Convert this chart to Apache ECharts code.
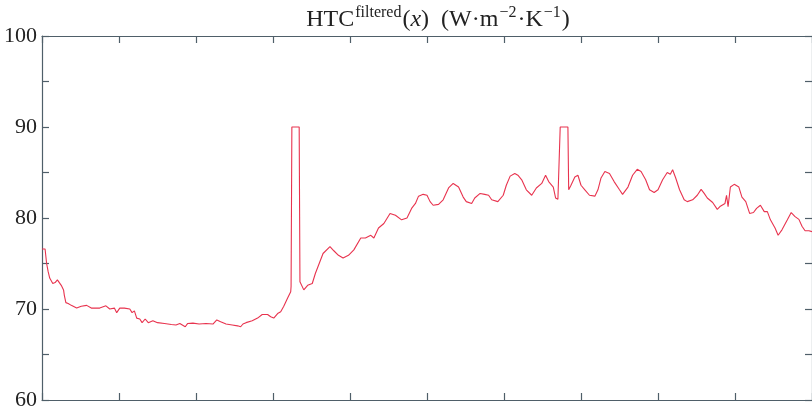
<!DOCTYPE html>
<html>
<head>
<meta charset="utf-8">
<script src="https://cdn.jsdelivr.net/npm/echarts@6/dist/echarts.min.js"></script>
<style>
html,body{margin:0;padding:0;background:#fff;}
#chart{width:812px;height:411px;}
</style>
</head>
<body>
<div id="chart"></div>
<script>
// position along x (axis units, ticks every 1)
const xs = [
0.00,0.04,0.06,0.08,0.10,0.14,0.17,0.20,0.22,0.25,0.28,0.29,0.31,0.34,0.38,0.45,0.51,0.58,0.64,0.75,
0.83,0.88,0.94,0.97,1.01,1.07,1.14,1.17,1.20,1.23,1.27,1.30,1.34,1.38,1.44,1.50,1.59,1.68,1.74,1.79,
1.86,1.89,1.96,2.04,2.13,2.22,2.27,2.32,2.39,2.47,2.54,2.58,2.61,2.65,2.73,2.80,2.86,2.93,2.97,3.01,
3.06,3.10,3.14,3.19,3.23,3.235,3.245,3.34,3.35,3.40,3.45,3.51,3.55,3.60,3.65,3.74,3.79,3.85,3.91,3.98,
4.05,4.14,4.20,4.27,4.31,4.37,4.44,4.52,4.59,4.67,4.74,4.80,4.85,4.89,4.95,5.00,5.04,5.08,5.15,5.21,
5.28,5.34,5.41,5.47,5.51,5.58,5.62,5.69,5.75,5.80,5.84,5.92,5.99,6.03,6.08,6.14,6.18,6.23,6.29,6.36,
6.42,6.49,6.54,6.58,6.64,6.67,6.70,6.72,6.73,6.83,6.84,6.87,6.92,6.96,7.00,7.05,7.11,7.18,7.22,7.26,
7.31,7.37,7.43,7.50,7.54,7.61,7.67,7.73,7.78,7.84,7.89,7.95,8.00,8.06,8.12,8.16,8.19,8.23,8.28,8.34,
8.38,8.45,8.51,8.56,8.60,8.64,8.71,8.77,8.81,8.87,8.89,8.91,8.94,8.99,9.05,9.09,9.14,9.19,9.24,9.28,
9.33,9.38,9.42,9.46,9.52,9.56,9.61,9.68,9.73,9.78,9.83,9.87,9.91,9.96,10.00
];
// HTC filtered values (W·m^-2·K^-1)
const htc = [
76.6,76.6,75.0,74.1,73.4,72.8,72.9,73.2,73.3,72.6,72.1,71.5,70.7,70.6,70.4,70.1,70.3,70.4,70.1,70.1,
70.35,70.0,70.1,69.6,70.1,70.1,70.0,69.6,69.8,69.0,68.9,68.5,68.9,68.5,68.7,68.5,68.4,68.3,68.25,68.4,
68.05,68.4,68.45,68.35,68.4,68.35,68.8,68.6,68.35,68.25,68.15,68.05,68.35,68.5,68.7,69.0,69.4,69.4,69.15,69.0,
69.5,69.7,70.3,71.2,71.9,72.5,90.0,90.0,73.0,72.1,72.6,72.8,73.9,75.0,76.1,76.85,76.4,75.9,75.6,75.9,
76.5,77.8,77.8,78.1,77.8,78.9,79.4,80.5,80.3,79.8,80.0,81.05,81.6,82.4,82.6,82.5,81.8,81.4,81.5,82.0,
83.3,83.8,83.4,82.3,81.8,81.6,82.2,82.7,82.6,82.5,82.0,81.8,82.5,83.6,84.6,84.9,84.7,84.2,83.1,82.5,
83.3,83.8,84.7,84.0,83.4,82.2,82.05,82.0,90.0,90.0,83.1,83.6,84.5,84.7,83.6,83.1,82.5,82.4,83.1,84.4,
85.1,84.9,84.0,83.1,82.6,83.4,84.7,85.35,85.1,84.2,83.1,82.8,83.1,84.2,85.0,84.8,85.3,84.4,83.1,82.0,
81.8,82.0,82.5,83.15,82.7,82.2,81.7,80.95,81.3,81.6,82.5,81.25,83.4,83.7,83.4,82.3,81.8,80.5,80.6,81.05,
81.4,80.7,80.7,79.8,78.9,78.1,78.7,79.8,80.6,80.15,79.85,79.1,78.6,78.6,78.5
];
const yTicks = [60,70,80,90,100];

const axisColor = '#4f5f69';
const font = '"Liberation Serif", "Times New Roman", serif';

const chart = echarts.init(document.getElementById('chart'), null, {renderer:'canvas'});
const baseX = {
  type:'value', min:0, max:10, interval:1,
  axisLine:{show:true, onZero:false, lineStyle:{color:axisColor, width:1.2}},
  axisTick:{show:true, inside:true, length:7, lineStyle:{color:axisColor, width:1.2}},
  axisLabel:{show:false}, splitLine:{show:false}
};
const baseY = {
  type:'value', min:60, max:100, interval:5,
  axisLine:{show:true, onZero:false, lineStyle:{color:axisColor, width:1.2}},
  axisTick:{show:true, inside:true, length:7, lineStyle:{color:axisColor, width:1.2}},
  splitLine:{show:false}
};
const tn = {fontFamily:font, fontSize:24, fontWeight:'normal', color:'#222', verticalAlign:'bottom', lineHeight:30};
chart.setOption({
  animation:false,
  backgroundColor:'#ffffff',
  title:{
    text:'{n|HTC}{s|filtered}{n|(}{i|x}{n|)}{sp| }{n|(W·m}{s|−2}{n|·K}{s|−1}{n|)}',
    left:433, top:-3, textAlign:'center',
    textStyle:{
      fontWeight:'normal',
      rich:{
        n:tn,
        sp:Object.assign({}, tn, {padding:[0,3,0,3]}),
        i:Object.assign({}, tn, {fontStyle:'italic'}),
        s:{fontFamily:font, fontSize:16, fontWeight:'normal', color:'#222', verticalAlign:'bottom', lineHeight:30, padding:[0,1,11,1]}
      }
    }
  },
  grid:{left:42, top:36, width:773, height:364, containLabel:false},
  xAxis:[
    Object.assign({}, baseX, {position:'bottom'}),
    Object.assign({}, baseX, {position:'top'})
  ],
  yAxis:[
    Object.assign({}, baseY, {position:'left',
      axisLabel:{show:true, margin:5, fontFamily:font, fontSize:22, color:'#222',
        formatter:function(v){ return yTicks.indexOf(v) >= 0 ? String(v) : ''; }}}),
    Object.assign({}, baseY, {position:'right', axisLabel:{show:false}})
  ],
  series:[{
    type:'line',
    xAxisIndex:0, yAxisIndex:0,
    data: xs.map((x,i)=>[x, htc[i]]),
    showSymbol:false, symbol:'none',
    lineStyle:{color:'#e8334e', width:1.1},
    clip:true
  }]
});
</script>
</body>
</html>
